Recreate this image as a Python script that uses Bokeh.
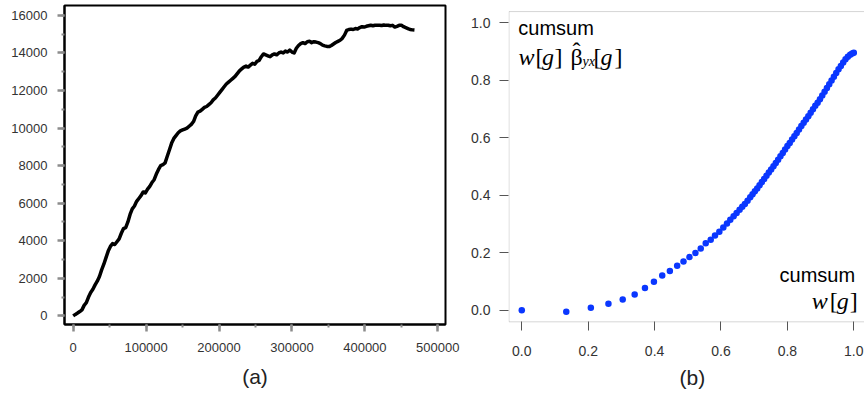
from bokeh.plotting import figure
from bokeh.models import (Range1d, SingleIntervalTicker, BasicTickFormatter, Label,
                          FixedTicker, PrintfTickFormatter, Title, BoxAnnotation)
from bokeh.layouts import row
from bokeh.embed import file_html
from bokeh.resources import INLINE

# ---------------- data: panel (a) ----------------
a_x = [0, 3000, 6000, 9000, 12000, 15000, 18000, 21000, 24000, 27000, 30000, 33000, 36000,
       39000, 42000, 45000, 48000, 51000, 54000, 57000, 60000, 63000, 66000, 69000, 72000,
       75000, 78000, 81000, 84000, 87000, 90000, 93000, 96000, 99000, 102000, 105000, 108000,
       111000, 114000, 117000, 120000, 123000, 126000, 129000, 132000, 135000, 138000, 141000,
       144000, 147000, 150000, 153000, 156000, 159000, 162000, 165000, 168000, 171000, 174000,
       177000, 180000, 183000, 186000, 189000, 192000, 195000, 198000, 201000, 204000, 207000,
       210000, 213000, 216000, 219000, 222000, 225000, 228000, 231000, 234000, 237000, 240000,
       243000, 246000, 249000, 252000, 255000, 258000, 261000, 264000, 267000, 270000, 273000,
       276000, 279000, 282000, 285000, 288000, 291000, 294000, 297000, 300000, 303000, 306000,
       309000, 312000, 315000, 318000, 321000, 324000, 327000, 330000, 333000, 336000, 339000,
       342000, 345000, 348000, 351000, 354000, 357000, 360000, 363000, 366000, 369000, 372000,
       375000, 378000, 381000, 384000, 387000, 390000, 393000, 396000, 399000, 402000, 405000,
       408000, 411000, 414000, 417000, 420000, 423000, 426000, 429000, 432000, 435000, 438000,
       441000, 444000, 447000, 450000, 453000, 456000, 459000, 462000, 465000, 468000]
a_y = [0, 80, 150, 230, 320, 560, 700, 1000, 1250, 1420, 1650, 1850, 2100,
       2450, 2750, 3100, 3450, 3700, 3850, 3800, 3950, 4100, 4400, 4650, 4700,
       5000, 5400, 5700, 5850, 6100, 6250, 6400, 6600, 6550, 6750, 6900, 7100,
       7250, 7550, 7800, 8000, 8050, 8150, 8500, 8850, 9200, 9450, 9600,
       9750, 9850, 9900, 9950, 10000, 10100, 10200, 10350, 10650, 10850, 10900,
       11000, 11100, 11150, 11250, 11350, 11500, 11600, 11750, 11900, 12050, 12200,
       12350, 12450, 12550, 12650, 12750, 12900, 13050, 13150, 13250, 13300, 13250,
       13350, 13450, 13400, 13550, 13600, 13800, 13950, 13900, 13850, 13800, 13900,
       13950, 13900, 14000, 14050, 14000, 14100, 14050, 14150, 14050, 14000, 14250,
       14400, 14500, 14550, 14500, 14600, 14620, 14550, 14600, 14580, 14550, 14500,
       14420, 14380, 14350, 14340, 14400, 14480, 14560, 14620, 14680, 14780, 14950,
       15200, 15250, 15270, 15250, 15300, 15280, 15350, 15400, 15380, 15420, 15450,
       15480, 15450, 15480, 15470, 15480, 15460, 15490, 15470, 15480, 15450, 15470,
       15380, 15420, 15470, 15480, 15400, 15350, 15300, 15250, 15230, 15220]

# ---------------- data: panel (b) ----------------
b_x = [0.0, 0.134, 0.208, 0.261, 0.304, 0.340, 0.371, 0.398, 0.423, 0.446, 0.468, 0.487,
       0.505, 0.523, 0.539, 0.554, 0.569, 0.582, 0.595, 0.607, 0.618, 0.628, 0.638, 0.647,
       0.656, 0.664, 0.672, 0.680, 0.688, 0.695, 0.702, 0.709, 0.716, 0.723, 0.730, 0.737,
       0.744, 0.751, 0.758, 0.765, 0.772, 0.779, 0.786, 0.793, 0.800, 0.807, 0.814, 0.821,
       0.828, 0.835, 0.842, 0.849, 0.856, 0.863, 0.870, 0.877, 0.884, 0.891, 0.898, 0.905,
       0.912, 0.919, 0.926, 0.933, 0.940, 0.947, 0.954, 0.961, 0.968, 0.975, 0.982, 0.989,
       0.995, 1.000]
b_y = [0.0, -0.005, 0.009, 0.023, 0.038, 0.055, 0.078, 0.099, 0.121, 0.137, 0.155, 0.170,
       0.185, 0.199, 0.215, 0.233, 0.245, 0.260, 0.273, 0.288, 0.302, 0.315, 0.327, 0.338,
       0.350, 0.360, 0.370, 0.381, 0.393, 0.404, 0.414, 0.424, 0.435, 0.446, 0.457, 0.468,
       0.479, 0.490, 0.501, 0.512, 0.524, 0.536, 0.547, 0.559, 0.571, 0.582, 0.594, 0.605,
       0.617, 0.629, 0.641, 0.652, 0.664, 0.675, 0.687, 0.699, 0.711, 0.722, 0.734, 0.747,
       0.760, 0.773, 0.786, 0.799, 0.812, 0.825, 0.838, 0.850, 0.862, 0.873, 0.882, 0.889,
       0.893, 0.896]
b_ticks = [0.0, 0.2, 0.4, 0.6, 0.8, 1.0]

SANS = "Liberation Sans"
SERIF = "Liberation Serif"
H = 393

# ---------------- panel (a) ----------------
p1 = figure(width=462, height=H, output_backend="svg", toolbar_location=None,
            x_range=Range1d(-11930, 510560), y_range=Range1d(-459, 16528),
            min_border_left=64, min_border_right=17, min_border_top=5, min_border_bottom=66)
p1.grid.visible = False
p1.outline_line_color = "black"
p1.outline_line_width = 2
p1.line(a_x, a_y, line_color="black", line_width=3.5, line_join="round")

p1.xaxis.ticker = SingleIntervalTicker(interval=100000, num_minor_ticks=2)
p1.yaxis.ticker = SingleIntervalTicker(interval=2000, num_minor_ticks=2)
p1.xaxis.formatter = BasicTickFormatter(use_scientific=False)
p1.yaxis.formatter = BasicTickFormatter(use_scientific=False)
for ax in (p1.xaxis, p1.yaxis):
    ax.axis_line_color = "black"
    ax.axis_line_width = 2
    ax.major_tick_line_color = "#8c8c8c"
    ax.major_tick_line_width = 2.5
    ax.minor_tick_line_color = "#8c8c8c"
    ax.minor_tick_line_width = 2
    ax.major_tick_in = 0
    ax.major_tick_out = 7
    ax.minor_tick_in = 0
    ax.minor_tick_out = 3
    ax.major_label_text_font = SANS
    ax.major_label_text_font_size = "13px"
    ax.major_label_text_color = "#333333"
p1.yaxis.major_label_standoff = 10
p1.xaxis.major_label_standoff = 11
p1.xaxis.axis_label = "(a)"
p1.xaxis.axis_label_text_font = SANS
p1.xaxis.axis_label_text_font_size = "21px"
p1.xaxis.axis_label_text_font_style = "normal"
p1.xaxis.axis_label_text_color = "#222222"
p1.xaxis.axis_label_standoff = 10

# ---------------- panel (b) ----------------
p2 = figure(width=402, height=H, output_backend="svg", toolbar_location=None,
            x_range=Range1d(-0.0400, 1.0322), y_range=Range1d(-0.0493, 1.0600),
            min_border_left=46, min_border_right=0, min_border_top=5, min_border_bottom=66)
p2.grid.visible = False
p2.outline_line_color = None
p2.scatter(b_x, b_y, size=6.5, fill_color="#0a37ff", line_color=None)

for ax in (p2.xaxis, p2.yaxis):
    ax.ticker = FixedTicker(ticks=b_ticks)
    ax.formatter = PrintfTickFormatter(format="%.1f")
    ax.axis_line_color = None
    ax.major_tick_line_color = "#555555"
    ax.major_tick_line_width = 1
    ax.minor_tick_line_color = None
    ax.major_label_text_font = SANS
    ax.major_label_text_font_size = "14px"
    ax.major_label_text_color = "#333333"
p2.yaxis.major_tick_in = 0
p2.yaxis.major_tick_out = 9
p2.yaxis.major_label_standoff = 9
p2.xaxis.major_tick_in = 3
p2.xaxis.major_tick_out = 6
p2.xaxis.major_label_standoff = 15

# panel box (left, bottom and top sides; right side lies beyond the picture)
p2.add_layout(BoxAnnotation(left=-0.0385, right=1.2, bottom=-0.0400, top=1.0389,
                            fill_alpha=0, line_color="#777777", line_width=1))

p2.add_layout(Title(text="(b)", align="left", offset=171, text_font=SANS,
                    text_font_size="21px", text_font_style="normal",
                    text_color="#222222", standoff=10), "below")

def lab(fig, x, y, text, font, size, style="normal", align="left", xo=0, yo=0, color="black"):
    fig.add_layout(Label(x=x, y=y, text=text, text_font=font, text_font_size=size,
                         text_font_style=style, text_align=align, text_baseline="alphabetic",
                         x_offset=xo, y_offset=yo, text_color=color))

# top-left annotation
lab(p2, -0.0105, 0.982, "cumsum", SANS, "20px")
X0, Y0 = -0.0099, 0.881
lab(p2, X0, Y0, "w", SERIF, "24px", "italic", xo=0)
lab(p2, X0, Y0, "[", SERIF, "24px", xo=17)
lab(p2, X0, Y0, "g", SERIF, "24px", "italic", xo=23.5)
lab(p2, X0, Y0, "]", SERIF, "24px", xo=36)
lab(p2, X0, Y0, "\u03b2", SERIF, "24px", xo=52)
lab(p2, X0, Y0, "\u02c6", SERIF, "24px", xo=54, yo=6)
lab(p2, X0, Y0, "yx", SERIF, "14px", "italic", xo=64, yo=-5)
lab(p2, X0, Y0, "[", SERIF, "24px", xo=75)
lab(p2, X0, Y0, "g", SERIF, "24px", "italic", xo=82)
lab(p2, X0, Y0, "]", SERIF, "24px", xo=96)

# bottom-right annotation
lab(p2, 1.004, 0.124, "cumsum", SANS, "20px", align="right")
X1, Y1 = 1.0, 0.034
lab(p2, X1, Y1, "w", SERIF, "24px", "italic", xo=-42)
lab(p2, X1, Y1, "[", SERIF, "24px", xo=-24)
lab(p2, X1, Y1, "g", SERIF, "24px", "italic", xo=-17)
lab(p2, X1, Y1, "]", SERIF, "24px", xo=-4)

layout = row(p1, p2)
open("out.html", "w").write(file_html(layout, INLINE))
